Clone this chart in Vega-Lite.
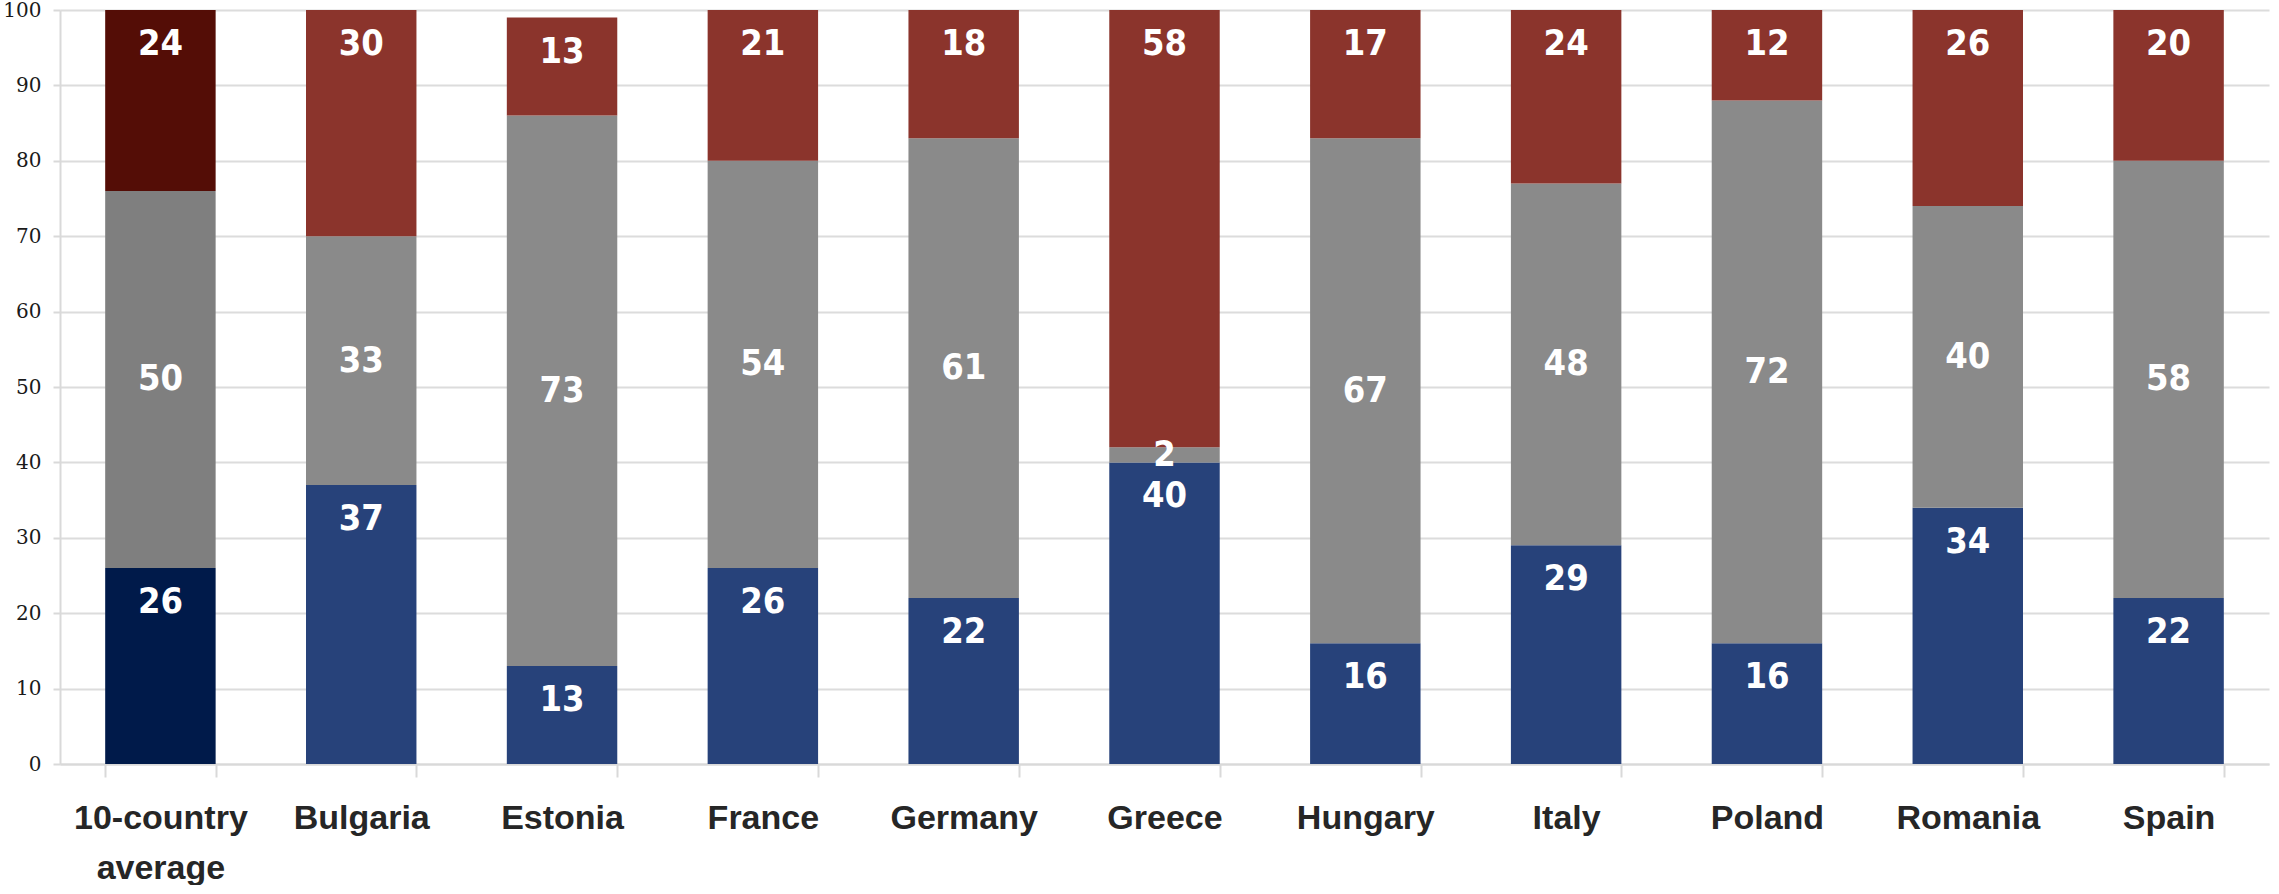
{
  "$schema": "https://vega.github.io/schema/vega-lite/v6.json",
  "width": 2209,
  "height": 754,
  "padding": {"left": 2, "top": 0, "right": 11, "bottom": 0},
  "background": "white",
  "config": {"view": {"stroke": null}},
  "data": {
    "values": [
      {"country": "10-country average", "part": "Bottom", "value": 26},
      {"country": "10-country average", "part": "Middle", "value": 50},
      {"country": "10-country average", "part": "Top", "value": 24},
      {"country": "Bulgaria", "part": "Bottom", "value": 37},
      {"country": "Bulgaria", "part": "Middle", "value": 33},
      {"country": "Bulgaria", "part": "Top", "value": 30},
      {"country": "Estonia", "part": "Bottom", "value": 13},
      {"country": "Estonia", "part": "Middle", "value": 73},
      {"country": "Estonia", "part": "Top", "value": 13},
      {"country": "France", "part": "Bottom", "value": 26},
      {"country": "France", "part": "Middle", "value": 54},
      {"country": "France", "part": "Top", "value": 21},
      {"country": "Germany", "part": "Bottom", "value": 22},
      {"country": "Germany", "part": "Middle", "value": 61},
      {"country": "Germany", "part": "Top", "value": 18},
      {"country": "Greece", "part": "Bottom", "value": 40},
      {"country": "Greece", "part": "Middle", "value": 2},
      {"country": "Greece", "part": "Top", "value": 58},
      {"country": "Hungary", "part": "Bottom", "value": 16},
      {"country": "Hungary", "part": "Middle", "value": 67},
      {"country": "Hungary", "part": "Top", "value": 17},
      {"country": "Italy", "part": "Bottom", "value": 29},
      {"country": "Italy", "part": "Middle", "value": 48},
      {"country": "Italy", "part": "Top", "value": 24},
      {"country": "Poland", "part": "Bottom", "value": 16},
      {"country": "Poland", "part": "Middle", "value": 72},
      {"country": "Poland", "part": "Top", "value": 12},
      {"country": "Romania", "part": "Bottom", "value": 34},
      {"country": "Romania", "part": "Middle", "value": 40},
      {"country": "Romania", "part": "Top", "value": 26},
      {"country": "Spain", "part": "Bottom", "value": 22},
      {"country": "Spain", "part": "Middle", "value": 58},
      {"country": "Spain", "part": "Top", "value": 20}
    ]
  },
  "transform": [
    {"stack": "value", "groupby": ["country"], "sort": [{"field": "part", "order": "ascending"}], "as": ["v0", "v1"]}
  ],
  "encoding": {
    "x": {
      "field": "country",
      "type": "nominal",
      "sort": ["10-country average", "Bulgaria", "Estonia", "France", "Germany", "Greece", "Hungary", "Italy", "Poland", "Romania", "Spain"],
      "title": null,
      "scale": {"paddingInner": 0.45, "paddingOuter": 0.225},
      "axis": {
        "title": null,
        "labelAngle": 0,
        "tickBand": "extent",
        "domainColor": "#d9d9d9",
        "domainWidth": 2,
        "tickColor": "#d9d9d9",
        "tickWidth": 2,
        "tickSize": 13,
        "labelFont": "Liberation Sans",
        "labelFontWeight": "bold",
        "labelFontSize": 34,
        "labelColor": "#262626",
        "labelPadding": 24,
        "labelBaseline": "top",
        "labelLineHeight": 50,
        "labelLimit": 400,
        "labelExpr": "split(datum.label, ' ')"
      }
    }
  },
  "layer": [
    {
      "transform": [{"filter": "datum.country == '10-country average'"}],
      "mark": {"type": "bar"},
      "encoding": {
        "y": {
          "field": "v0",
          "type": "quantitative",
          "title": null,
          "scale": {"domain": [0, 100], "nice": false, "clamp": true},
          "axis": {
            "title": null,
            "values": [0, 10, 20, 30, 40, 50, 60, 70, 80, 90, 100],
            "grid": true,
            "gridColor": "#dcdcdc",
            "gridWidth": 2,
            "domainColor": "#d9d9d9",
            "domainWidth": 2,
            "tickColor": "#d9d9d9",
            "tickWidth": 2,
            "tickSize": 7,
            "labelFont": "DejaVu Serif",
            "labelFontSize": 20,
            "labelColor": "#1a1a1a",
            "labelPadding": 12
          }
        },
        "y2": {"field": "v1"},
        "color": {
          "field": "part",
          "type": "nominal",
          "scale": {"domain": ["Bottom", "Middle", "Top"], "range": ["#001a4a", "#7f7f7f", "#540d06"]},
          "legend": null
        }
      }
    },
    {
      "transform": [{"filter": "datum.country != '10-country average'"}],
      "mark": {"type": "bar"},
      "encoding": {
        "y": {"field": "v0", "type": "quantitative", "title": null},
        "y2": {"field": "v1"},
        "color": {
          "field": "part",
          "type": "nominal",
          "scale": {"domain": ["Bottom", "Middle", "Top"], "range": ["#27427a", "#8a8a8a", "#8b342c"]},
          "legend": null
        }
      }
    },
    {
      "transform": [{"filter": "datum.part != 'Middle'"}],
      "mark": {"type": "text", "color": "white", "baseline": "middle", "align": "center", "dy": 34, "font": "Liberation Sans Narrow, DejaVu Sans Condensed, Liberation Sans, sans-serif", "fontWeight": "bold", "fontSize": 36},
      "encoding": {
        "y": {"field": "v1", "type": "quantitative", "title": null},
        "text": {"field": "value", "type": "quantitative"}
      }
    },
    {
      "transform": [
        {"filter": "datum.part == 'Middle'"},
        {"fold": ["v0", "v1"], "as": ["edge", "pos"]},
        {"aggregate": [{"op": "mean", "field": "pos", "as": "mid"}], "groupby": ["country", "value"]}
      ],
      "mark": {"type": "text", "color": "white", "baseline": "middle", "align": "center", "font": "Liberation Sans Narrow, DejaVu Sans Condensed, Liberation Sans, sans-serif", "fontWeight": "bold", "fontSize": 36},
      "encoding": {
        "y": {"field": "mid", "type": "quantitative", "title": null},
        "text": {"field": "value", "type": "quantitative"}
      }
    }
  ],
  "resolve": {"scale": {"color": "independent"}}
}
